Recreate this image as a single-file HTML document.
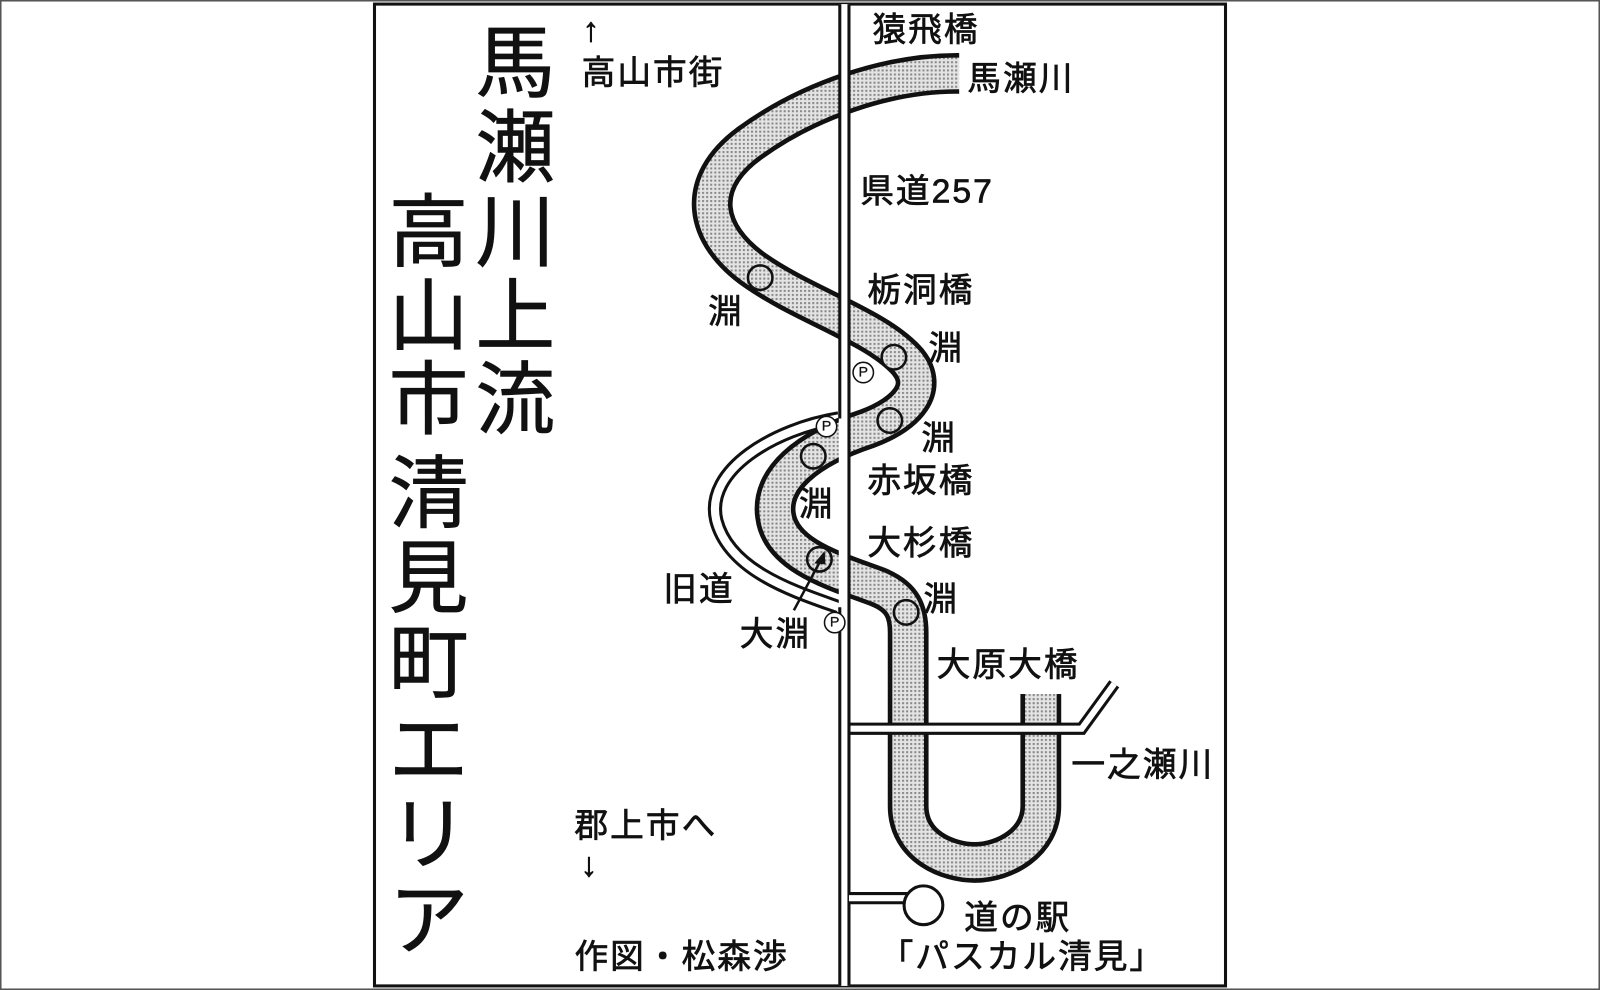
<!DOCTYPE html>
<html><head><meta charset="utf-8"><style>
html,body{margin:0;padding:0;background:#fff}
svg{display:block}
text{font-family:"Liberation Sans","Noto Sans CJK JP",sans-serif;fill:#111;dominant-baseline:central;stroke:#111;stroke-width:0.7}
</style></head><body>
<svg width="1600" height="990" viewBox="0 0 1568 970" preserveAspectRatio="none" xmlns="http://www.w3.org/2000/svg">
<defs>
<pattern id="dots" width="4" height="4" patternUnits="userSpaceOnUse">
<rect width="4" height="4" fill="#e4e4e4"/>
<rect x="0" y="0" width="2" height="2" fill="#888"/>
</pattern>
</defs>
<rect x="0.5" y="0.5" width="1567" height="969" fill="#fff" stroke="#555" stroke-width="2"/>
<rect x="367" y="4" width="834" height="962" fill="#fff" stroke="#111" stroke-width="3"/>

<path d="M822,410 C760,420 690,460 702,510 C715,560 780,580 822,595" fill="none" stroke="#111" stroke-width="14"/>
<path d="M822,410 C760,420 690,460 702,510 C715,560 780,580 822,595" fill="none" stroke="#fff" stroke-width="8"/>

<g fill="none" stroke-linejoin="round">
<path d="M945,72 C870,70 790,100 735,140 C680,180 690,230 740,265 C790,300 860,320 890,355 C910,380 890,405 850,420 C790,440 755,470 760,505 C765,545 820,560 860,575 C885,585 890,600 890,620 L890,790 C890,830 930,845 955,845 C985,845 1020,825 1020,790 L1020,680" stroke="#111" stroke-width="40"/>
<path d="M945,72 C870,70 790,100 735,140 C680,180 690,230 740,265 C790,300 860,320 890,355 C910,380 890,405 850,420 C790,440 755,470 760,505 C765,545 820,560 860,575 C885,585 890,600 890,620 L890,790 C890,830 930,845 955,845 C985,845 1020,825 1020,790 L1020,680" stroke="url(#dots)" stroke-width="31"/>
</g>
<rect x="990" y="660" width="60" height="20" fill="#fff"/>
<rect x="940" y="40" width="30" height="60" fill="#fff"/>

<path d="M832,714 L1060,714 L1092,670" fill="none" stroke="#111" stroke-width="12"/>
<path d="M832,714 L1060,714 L1092,670" fill="none" stroke="#fff" stroke-width="6"/>

<rect x="822" y="4" width="11" height="962" fill="#fff"/>
<line x1="823" y1="4" x2="823" y2="410" stroke="#111" stroke-width="3"/>
<line x1="823" y1="595" x2="823" y2="966" stroke="#111" stroke-width="3"/>
<line x1="832" y1="4" x2="832" y2="966" stroke="#111" stroke-width="3"/>

<path d="M832,880 L890,880" stroke="#111" stroke-width="12"/>
<path d="M832,880 L890,880" stroke="#fff" stroke-width="6"/>
<circle cx="905" cy="887" r="19" fill="#fff" stroke="#111" stroke-width="3"/>

<g fill="url(#dots)" stroke="#111" stroke-width="2.5">
<circle cx="745" cy="272" r="12"/>
<circle cx="876" cy="350" r="12"/>
<circle cx="872" cy="412" r="12"/>
<circle cx="797" cy="447" r="12"/>
<circle cx="803" cy="548" r="12"/>
<circle cx="888" cy="600" r="12"/>
</g>
<g font-size="14" text-anchor="middle">
<circle cx="846" cy="365" r="10" fill="#fff" stroke="#111" stroke-width="1.5"/><text x="846" y="365" style="stroke-width:0.3">P</text>
<circle cx="810" cy="418" r="10" fill="#fff" stroke="#111" stroke-width="1.5"/><text x="810" y="418" style="stroke-width:0.3">P</text>
<circle cx="818" cy="610" r="10" fill="#fff" stroke="#111" stroke-width="1.5"/><text x="818" y="610" style="stroke-width:0.3">P</text>
</g>
<line x1="778" y1="598" x2="808" y2="542" stroke="#111" stroke-width="2.5"/>
<path d="M808,540 L798,552 L809,553 Z" fill="#111"/>

<g font-size="78" text-anchor="middle" style="stroke-width:1.8">
<text x="505" y="62">馬</text><text x="505" y="145">瀬</text><text x="505" y="228">川</text><text x="505" y="310">上</text><text x="505" y="392">流</text>
<text x="420" y="228">高</text><text x="420" y="310">山</text><text x="420" y="392">市</text>
<text x="420" y="484">清</text><text x="420" y="567">見</text><text x="420" y="650">町</text><text x="420" y="735">エ</text><text x="420" y="818">リ</text><text x="420" y="902">ア</text>
</g>

<g font-size="33" letter-spacing="2">
<text x="571" y="30">↑</text>
<text x="570" y="72">高山市街</text>
<text x="855" y="30">猿飛橋</text>
<text x="948" y="78">馬瀬川</text>
<text x="843" y="188">県道257</text>
<text x="850" y="285">栃洞橋</text>
<text x="694" y="306">淵</text>
<text x="910" y="342">淵</text>
<text x="903" y="430">淵</text>
<text x="850" y="472">赤坂橋</text>
<text x="783" y="495">淵</text>
<text x="850" y="533">大杉橋</text>
<text x="650" y="578">旧道</text>
<text x="905" y="588">淵</text>
<text x="725" y="622">大淵</text>
<text x="918" y="652">大原大橋</text>
<text x="1050" y="750">一之瀬川</text>
<text x="563" y="810">郡上市へ</text>
<text x="569" y="848">↓</text>
<text x="563" y="938">作図・松森渉</text>
<text x="945" y="900">道の駅</text>
<text x="862" y="938">「パスカル清見」</text>
</g>
</svg>
</body></html>
